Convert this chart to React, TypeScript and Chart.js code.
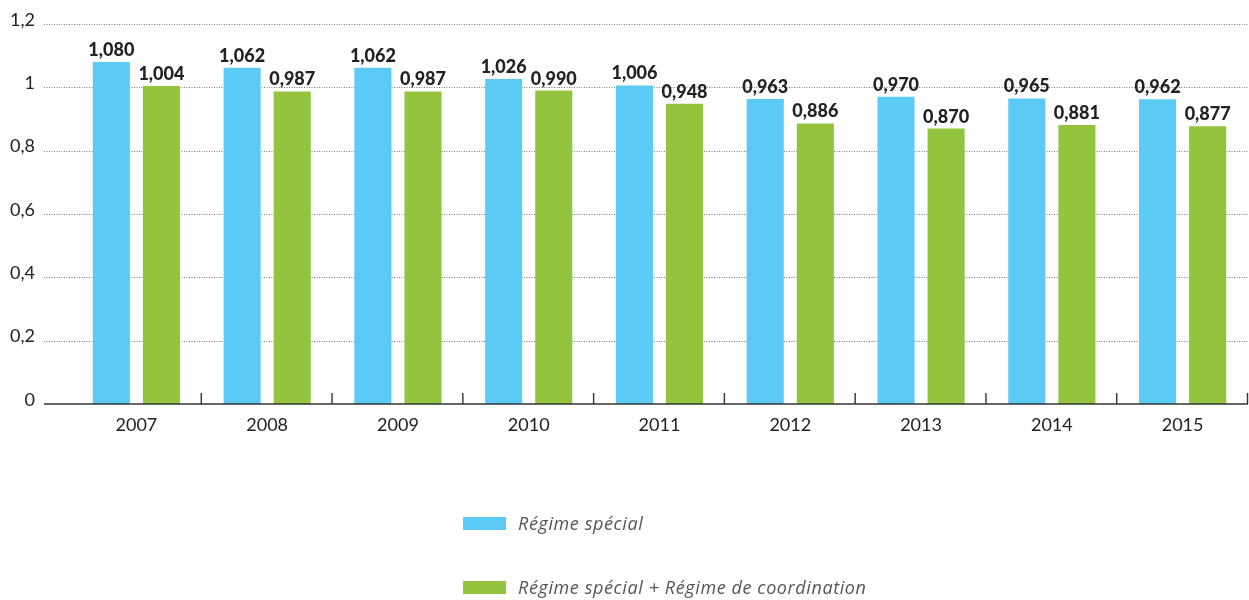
import React, { useEffect, useRef } from "react";
import { Chart, registerables } from "chart.js";

Chart.register(...registerables);

const categories = ["2007", "2008", "2009", "2010", "2011", "2012", "2013", "2014", "2015"];
const regimeSpecial = [1.08, 1.062, 1.062, 1.026, 1.006, 0.963, 0.97, 0.965, 0.962];
const regimeSpecialCoord = [1.004, 0.987, 0.987, 0.99, 0.948, 0.886, 0.87, 0.881, 0.877];
const seriesNames = ["Régime spécial", "Régime spécial + Régime de coordination"];
const seriesColors = ["#5BCBF5", "#92C43E"];
const yTickValues = [0, 0.2, 0.4, 0.6, 0.8, 1, 1.2];

const FONT = "Lato, 'Open Sans', sans-serif";
const LEGEND_FONT = "'Open Sans', Lato, sans-serif";

const fmt = (v: number, digits: number) => v.toFixed(digits).replace(".", ",");
const fmtTick = (v: number) => {
  const r = Math.round(v * 10) / 10;
  return Number.isInteger(r) ? String(r) : String(r).replace(".", ",");
};

const decorPlugin = {
  id: "decor",
  beforeDatasetsDraw(chart: any) {
    const { ctx, scales } = chart;
    const y = scales.y;
    ctx.save();
    ctx.strokeStyle = "#7a7a7a";
    ctx.lineWidth = 1;
    ctx.setLineDash([1, 1.5]);
    yTickValues.forEach((v) => {
      if (v === 0) return;
      const py = Math.round(y.getPixelForValue(v)) + 0.5;
      ctx.beginPath();
      ctx.moveTo(44, py);
      ctx.lineTo(chart.width, py);
      ctx.stroke();
    });
    ctx.restore();
  },
  afterDatasetsDraw(chart: any) {
    const { ctx, chartArea, scales } = chart;
    const y = scales.y;
    const base = y.getPixelForValue(0);
    ctx.save();
    ctx.strokeStyle = "#333";
    ctx.lineWidth = 1.6;
    ctx.beginPath();
    ctx.moveTo(44, base);
    ctx.lineTo(chartArea.right, base);
    ctx.stroke();
    const n = categories.length;
    const w = (chartArea.right - chartArea.left) / n;
    ctx.lineWidth = 1.4;
    for (let i = 1; i <= n; i++) {
      const px = chartArea.left + i * w - 0.5;
      ctx.beginPath();
      ctx.moveTo(px, base);
      ctx.lineTo(px, base - 11);
      ctx.stroke();
    }
    ctx.fillStyle = "#222";
    ctx.font = `900 18px ${FONT}`;
    ctx.textAlign = "center";
    ctx.textBaseline = "alphabetic";
    chart.data.datasets.forEach((ds: any, di: number) => {
      const meta = chart.getDatasetMeta(di);
      meta.data.forEach((bar: any, i: number) => {
        ctx.fillText(fmt(ds.data[i], 3), bar.x, bar.y - 6);
      });
    });
    ctx.restore();
  },
};

export default function App() {
  const ref = useRef<HTMLCanvasElement | null>(null);

  useEffect(() => {
    document.body.style.margin = "0";
    const canvas = ref.current;
    if (!canvas) return;
    const chart = new Chart(canvas, {
      type: "bar",
      data: {
        labels: categories,
        datasets: [
          {
            label: seriesNames[0],
            data: regimeSpecial,
            backgroundColor: seriesColors[0],
            categoryPercentage: 0.766,
            barPercentage: 0.74,
          },
          {
            label: seriesNames[1],
            data: regimeSpecialCoord,
            backgroundColor: seriesColors[1],
            categoryPercentage: 0.766,
            barPercentage: 0.74,
          },
        ],
      },
      options: {
        animation: false,
        responsive: false,
        maintainAspectRatio: false,
        layout: { padding: { top: 24, right: 1, left: 0, bottom: 0 } },
        plugins: {
          legend: { display: false },
          tooltip: { enabled: false },
        },
        scales: {
          x: {
            grid: { display: false },
            border: { display: false },
            ticks: {
              color: "#222",
              font: { family: FONT, size: 18 },
              padding: 2,
              maxRotation: 0,
            },
            afterFit(scale: any) {
              scale.height = 196;
              scale.paddingLeft = 0;
              scale.paddingRight = 0;
            },
          },
          y: {
            min: 0,
            max: 1.2,
            grid: { display: false, drawTicks: false },
            border: { display: false },
            afterBuildTicks(scale: any) {
              scale.ticks = yTickValues.map((v) => ({ value: v }));
            },
            ticks: {
              color: "#222",
              font: { family: FONT, size: 18 },
              padding: 36,
              labelOffset: -4,
              callback: (v: any) => fmtTick(Number(v)),
            },
            afterFit(scale: any) {
              scale.width = 71;
              scale.paddingTop = 0;
              scale.paddingBottom = 0;
            },
          },
        },
      },
      plugins: [decorPlugin],
    });
    return () => chart.destroy();
  }, []);

  const legendItem = (i: number, top: number) => (
    <div
      key={i}
      style={{
        position: "absolute",
        left: 463,
        top,
        display: "flex",
        alignItems: "center",
        height: 24,
      }}
    >
      <span
        style={{
          display: "inline-block",
          width: 43,
          height: 13,
          background: seriesColors[i],
          marginRight: 12,
        }}
      />
      <span
        style={{
          fontFamily: LEGEND_FONT,
          fontStyle: "italic",
          fontSize: 18,
          letterSpacing: 0.6,
          color: "#555",
          whiteSpace: "nowrap",
        }}
      >
        {seriesNames[i]}
      </span>
    </div>
  );

  return (
    <div style={{ position: "fixed", left: 0, top: 0, width: 1249, height: 600, background: "#fff" }}>
      <canvas ref={ref} width={1249} height={600} style={{ display: "block" }} />
      {legendItem(0, 511)}
      {legendItem(1, 575)}
    </div>
  );
}
